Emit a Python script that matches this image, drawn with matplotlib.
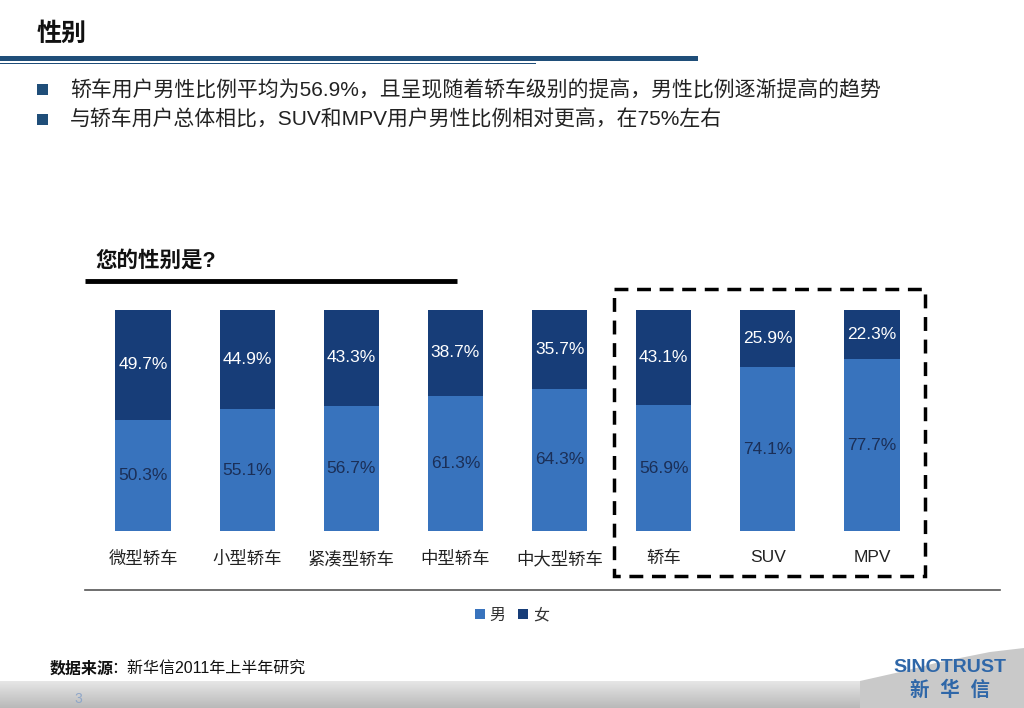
import matplotlib
matplotlib.use("Agg")
import matplotlib.pyplot as plt
import numpy as np
from matplotlib.patches import Rectangle, Polygon

plt.rcParams['font.family'] = ['Liberation Sans', 'Noto Sans CJK SC', 'DejaVu Sans']

# ---- data ----
categories = ['微型轿车', '小型轿车', '紧凑型轿车', '中型轿车', '中大型轿车', '轿车', 'SUV', 'MPV']
male = [50.3, 55.1, 56.7, 61.3, 64.3, 56.9, 74.1, 77.7]
female = [49.7, 44.9, 43.3, 38.7, 35.7, 43.1, 25.9, 22.3]
series_names = ['男', '女']

title = '性别'
bullets = ['轿车用户男性比例平均为56.9%，且呈现随着轿车级别的提高，男性比例逐渐提高的趋势',
           '与轿车用户总体相比，SUV和MPV用户男性比例相对更高，在75%左右']
question = '您的性别是?'
source_label = '数据来源'
source_text = '：新华信2011年上半年研究'
page_no = '3'

C_MALE = '#3873bd'
C_FEMALE = '#173d78'
NAVY = '#1f4e79'

W, H = 1024, 708
fig = plt.figure(figsize=(W / 100, H / 100), dpi=100)

# overlay axes in pixel coordinates for page decorations
ov = fig.add_axes([0, 0, 1, 1])
ov.axis('off')

# title and rules
ov.text(37, 34, title, fontsize=18, fontweight='bold', va='center', ha='left', color='#111111')
ov.add_patch(Rectangle((0, 56), 698, 4.5, color=NAVY, lw=0))
ov.add_patch(Rectangle((0, 62.5), 536, 1.6, color=NAVY, lw=0))

# bullets
for i, b in enumerate(bullets):
    y = 90 + i * 30
    ov.add_patch(Rectangle((37, y - 6), 11, 11, color=NAVY, lw=0))
    ov.text(70, y, b, fontsize=15, va='center', ha='left', color='#222222')

# question label and rule
ov.text(95, 261, question, fontsize=15.5, fontweight='bold', va='center', ha='left', color='#111111')
ov.plot([85, 457], [281, 281], color='black', lw=3.5, solid_capstyle='butt')

# bottom line of plot area
ov.plot([85, 1000], [590, 590], color='#555555', lw=1.2)

# dashed box
ov.add_patch(Rectangle((614, 289), 311, 287, fill=False, edgecolor='black',
                       lw=2.5, linestyle=(0, (4, 2.5))))

# footer band with gradient
grad = np.linspace(0, 1, 100).reshape(-1, 1)
ov.imshow(grad, extent=(0, W, H, 681), aspect='auto', cmap=matplotlib.colors.LinearSegmentedColormap.from_list(
    'g', ['#e6e6e6', '#b9b9b9']), zorder=0)
ov.add_patch(Polygon([[860, 681], [900, 672], [940, 662], [990, 652], [W, 648], [W, H], [860, H]],
                     closed=True, color='#c9c9c9', lw=0, zorder=0.5))
ov.set_xlim(0, W)
ov.set_ylim(H, 0)

ov.text(50, 669, source_label, fontsize=11.5, fontweight='bold', va='center', ha='left', color='#111111')
ov.text(111, 669, source_text, fontsize=11.5, va='center', ha='left', color='#111111')
ov.text(78, 699, page_no, fontsize=10, va='center', ha='center', color='#8fa6c8')
ov.text(950, 668, 'SINOTRUST', fontsize=14, fontweight='bold', va='center', ha='center', color='#2f67a8')
ov.text(950, 690, '新  华  信', fontsize=14, fontweight='bold', va='center', ha='center', color='#2f67a8')

# ---- chart axes ----
left = 91 / W
bottom = 1 - 531 / H
width = 833 / W
height = 221 / H
ax = fig.add_axes([left, bottom, width, height])
ax.patch.set_alpha(0)
x = np.arange(len(categories))
bw = 0.53
b1 = ax.bar(x, male, bw, color=C_MALE, label=series_names[0], zorder=2)
b2 = ax.bar(x, female, bw, bottom=male, color=C_FEMALE, label=series_names[1], zorder=2)
ax.set_xlim(-0.5, len(categories) - 0.5)
ax.set_ylim(0, 100)
for s in ax.spines.values():
    s.set_visible(False)
ax.set_yticks([])
ax.set_xticks(x)
ax.set_xticklabels(categories, fontsize=12.5, color='#222222')
ax.tick_params(axis='x', length=0, pad=14)

for i in range(len(categories)):
    ax.text(x[i], male[i] / 2, f'{male[i]:.1f}%', ha='center', va='center',
            fontsize=12.5, color='#1b2f57', zorder=3)
    ax.text(x[i], male[i] + female[i] / 2, f'{female[i]:.1f}%', ha='center', va='center',
            fontsize=12.5, color='white', zorder=3)

leg = fig.legend(handles=[b1, b2], labels=series_names, loc='center',
                 bbox_to_anchor=(512 / W, 1 - 615 / H), ncol=2, frameon=False,
                 fontsize=11.5, handlelength=0.6, handleheight=0.6, handletextpad=0.3,
                 columnspacing=0.8)
for t in leg.get_texts():
    t.set_color('#333333')

fig.savefig('out.png', dpi=100)
